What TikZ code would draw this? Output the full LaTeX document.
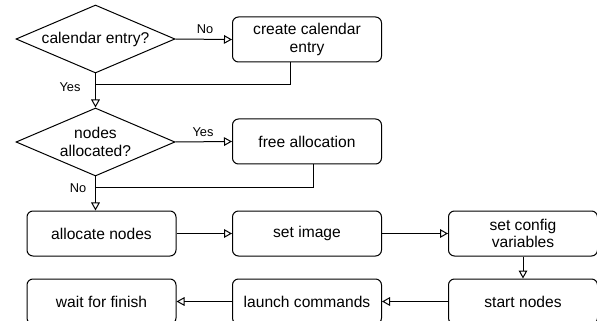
\documentclass[tikz,border=0pt]{standalone}
\usepackage{fontspec}
\setmainfont{Liberation Sans}
\usetikzlibrary{shapes.geometric,arrows.meta,calc}
\begin{document}
\begin{tikzpicture}[x=0.75pt,y=-0.75pt,
  every node/.style={font=\fontsize{11.7}{13.2}\selectfont, text=black},
  box/.style={draw, rounded corners=4.5pt, minimum width=111.75pt, minimum height=33.75pt, align=center, inner sep=0pt, line width=0.75pt},
  dec/.style={draw, diamond, aspect=2.34, minimum width=119.25pt, minimum height=51pt, align=center, inner sep=0pt, line width=0.75pt},
  lbl/.style={font=\fontsize{9.6}{11}\selectfont},
  arr/.style={line width=0.75pt, -{Triangle[open,length=6pt,width=6.5pt]}},
  ln/.style={line width=0.75pt}]
\useasboundingbox (0,0) rectangle (597,321);
\clip (0,0) rectangle (597,321);
\node[dec] (d1) at (95.5,39) {calendar entry?};
\node[box] (create) at (307,39.5) {create calendar\\entry};
\node[dec] (d2) at (95.5,142) {nodes\\allocated?};
\node[box] (free) at (307,141.5) {free allocation};
\node[box] (alloc) at (101.5,233.5) {allocate nodes};
\node[box] (setimg) at (307,233.5) {set image};
\node[box] (setcfg) at (523,233.5) {set config\\variables};
\node[box] (start) at (523,301.5) {start nodes};
\node[box] (launch) at (307,301.5) {launch commands};
\node[box] (wait) at (101.5,301.5) {wait for finish};
\coordinate (j1) at (95.5,85);
\coordinate (j2) at (95.5,188);
\draw[arr] (d1.east) -- (create.west);
\node[lbl] (lno1) at (205,29) {No};
\draw[ln] ([xshift=-12.75pt]create.south) |- (j1);
\draw[arr] (d1.south) -- (d2.north);
\node[lbl] (lyes1) at (70,87) {Yes};
\draw[arr] (d2.east) -- (free.west);
\node[lbl] (lyes2) at (203,132) {Yes};
\draw[ln] ([xshift=4.5pt]free.south) |- (j2);
\draw[arr] (d2.south) -- (d2.south |- alloc.north);
\node[lbl] (lno2) at (78,188) {No};
\draw[arr] (alloc.east) -- (setimg.west);
\draw[arr] (setimg.east) -- (setcfg.west);
\draw[arr] (setcfg.south) -- (start.north);
\draw[arr] (start.west) -- (launch.east);
\draw[arr] (launch.west) -- (wait.east);
\end{tikzpicture}
\end{document}
